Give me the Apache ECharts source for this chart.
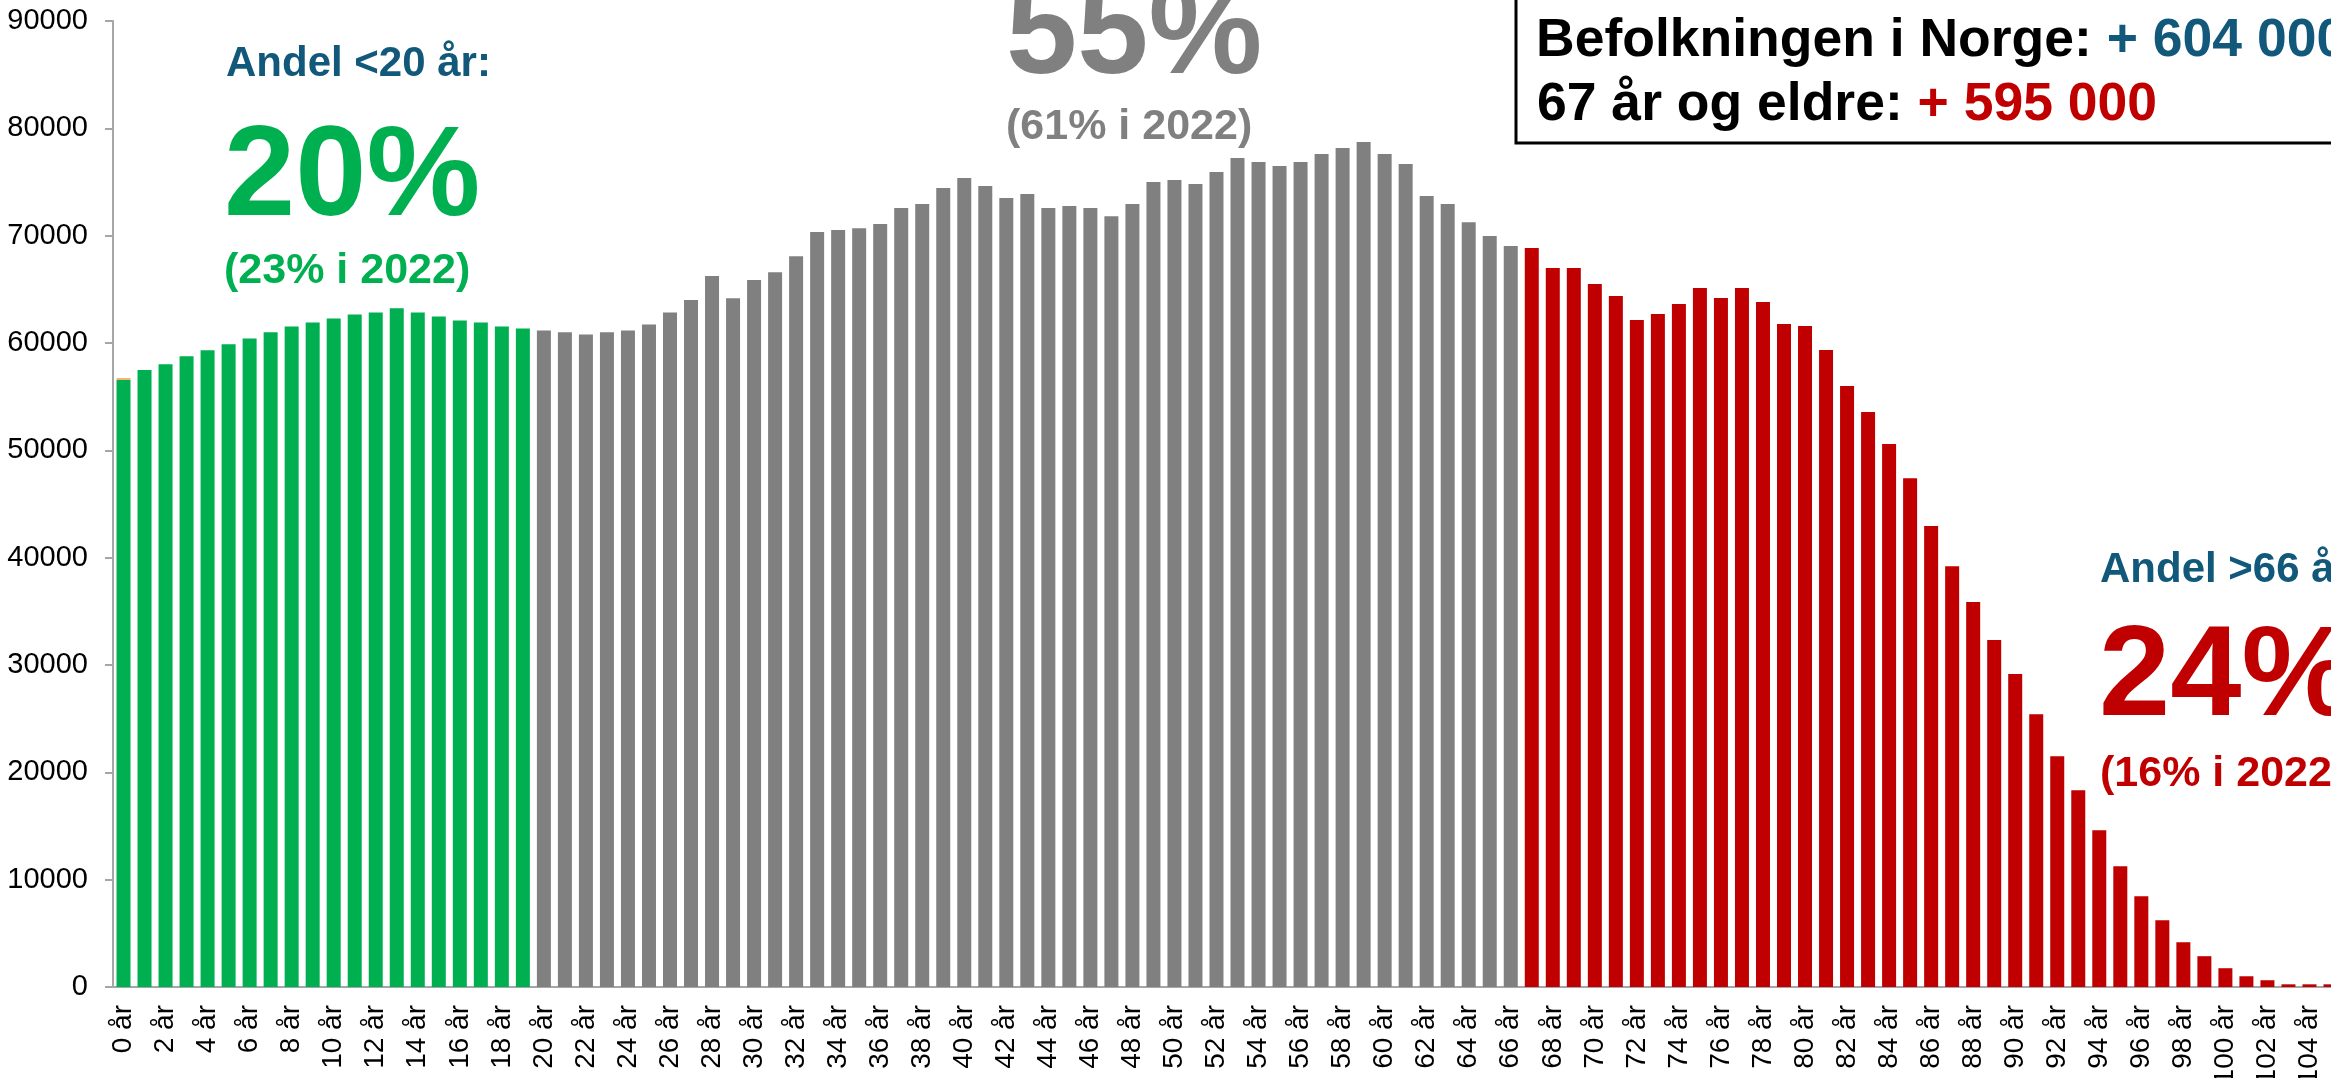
<!DOCTYPE html>
<html>
<head>
<meta charset="utf-8">
<title>Befolkning etter alder</title>
<script src="https://cdn.jsdelivr.net/npm/echarts@6/dist/echarts.min.js"></script>
<style>
    html, body {
        margin: 0;
        padding: 0;
        background: #fff;
        overflow: hidden;
    }
    /* chart is wider than the window, the right part is cut off like in the original */
    #chart {
        width: 2400px;
        height: 1078px;
    }
</style>
</head>
<body>
<div id="chart"></div>
<script>
// alder 0 .. 105 år
const ages = Array.from({length: 106}, (v, i) => i + ' år');

// antall personer per alder
const persons = [
    56550, 57480, 58030, 58770, 59320, 59880, 60430, 60990, 61540, 61910,
    62280, 62650, 62830, 63230, 62830, 62460, 62090, 61910, 61540, 61350,
    61170, 60990, 60800, 60990, 61170, 61720, 62850, 64000, 66240, 64170,
    65860, 66600, 68090, 70330, 70520, 70700, 71080, 72570, 72940, 74430,
    75370, 74620, 73500, 73880, 72570, 72760, 72570, 71820, 72940, 75000,
    75180, 74810, 75930, 77240, 76860, 76490, 76860, 77610, 78170, 78720,
    77610, 76680, 73690, 72940, 71260, 69960, 69030, 68840, 66980, 66980,
    65490, 64370, 62140, 62700, 63630, 65120, 64190, 65120, 63820, 61770,
    61580, 59340, 55990, 53560, 50580, 47410, 42940, 39210, 35860, 32320,
    29150, 25420, 21500, 18330, 14610, 11250, 8460, 6220, 4170, 2870,
    1750, 1000, 630, 250, 250, 250
];

// liten ekstra del oppå 0-åringene
const extra = [190];

const yTicks = [0, 10000, 20000, 30000, 40000, 50000, 60000, 70000, 80000, 90000];

const GREEN = '#00B050';
const GRAY = '#808080';
const RED = '#C00000';
const BLUE = '#11587A';
const FONT = '"Liberation Sans", Arial, sans-serif';

const chart = echarts.init(document.getElementById('chart'));

const option = {
    animation: false,
    textStyle: { fontFamily: FONT },
    grid: {
        left: 113,
        top: 21,
        right: 59,
        bottom: 91,
        containLabel: false,
        outerBoundsMode: 'none'
    },
    xAxis: {
        type: 'category',
        data: ages,
        axisLine: { lineStyle: { color: '#A6A6A6', width: 2 } },
        axisTick: { interval: 0, length: 7, lineStyle: { color: '#A6A6A6', width: 2 } },
        axisLabel: {
            interval: 1,
            rotate: 90,
            margin: 18,
            color: '#000',
            fontSize: 28,
            fontFamily: FONT
        }
    },
    yAxis: {
        type: 'value',
        min: yTicks[0],
        max: yTicks[yTicks.length - 1],
        interval: 10000,
        splitLine: { show: false },
        axisLine: { show: true, lineStyle: { color: '#A6A6A6', width: 2 } },
        axisTick: { show: true, length: 8, lineStyle: { color: '#A6A6A6', width: 2 } },
        axisLabel: {
            margin: 25,
            color: '#000',
            fontSize: 29,
            fontFamily: FONT,
            formatter: (v) => String(v)
        }
    },
    series: [
        {
            name: 'Befolkning',
            type: 'bar',
            stack: 'total',
            barWidth: 14,
            data: persons,
            itemStyle: {
                color: (p) => p.dataIndex < 20 ? GREEN : (p.dataIndex < 67 ? GRAY : RED)
            }
        },
        {
            name: 'Ekstra',
            type: 'bar',
            stack: 'total',
            barWidth: 14,
            data: extra,
            itemStyle: { color: '#F8B27C' }
        }
    ],
    graphic: [
        // venstre tekst
        { type: 'text', style: { x: 226, y: 64, text: 'Andel <20 år:', font: 'bold 42px ' + FONT, fill: BLUE, textVerticalAlign: 'middle' } },
        { type: 'text', style: { x: 224, y: 180, text: '20%', font: 'bold 128px ' + FONT, fill: GREEN, textVerticalAlign: 'middle' } },
        { type: 'text', style: { x: 224, y: 271, text: '(23% i 2022)', font: 'bold 43px ' + FONT, fill: GREEN, textVerticalAlign: 'middle' } },
        // midten
        { type: 'text', style: { x: 1006, y: 38, text: '55%', font: 'bold 128px ' + FONT, fill: GRAY, textVerticalAlign: 'middle' } },
        { type: 'text', style: { x: 1006, y: 127, text: '(61% i 2022)', font: 'bold 43px ' + FONT, fill: GRAY, textVerticalAlign: 'middle' } },
        // høyre
        { type: 'text', style: { x: 2100, y: 570, text: 'Andel >66 år:', font: 'bold 42px ' + FONT, fill: BLUE, textVerticalAlign: 'middle' } },
        { type: 'text', style: { x: 2099, y: 680, text: '24%', font: 'bold 128px ' + FONT, fill: RED, textVerticalAlign: 'middle' } },
        { type: 'text', style: { x: 2100, y: 774, text: '(16% i 2022)', font: 'bold 43px ' + FONT, fill: RED, textVerticalAlign: 'middle' } },
        // boks øverst til høyre
        {
            type: 'rect',
            shape: { x: 1516, y: -10, width: 900, height: 153 },
            style: { fill: '#fff', stroke: '#000', lineWidth: 3 }
        },
        {
            type: 'text',
            style: {
                x: 1536, y: 41,
                text: '{a|Befolkningen i Norge: }{b|+ 604 000}',
                textVerticalAlign: 'middle',
                rich: {
                    a: { font: 'bold 53.5px ' + FONT, fill: '#000' },
                    b: { font: 'bold 53.5px ' + FONT, fill: BLUE }
                }
            }
        },
        {
            type: 'text',
            style: {
                x: 1537, y: 105,
                text: '{a|67 år og eldre: }{b|+ 595 000}',
                textVerticalAlign: 'middle',
                rich: {
                    a: { font: 'bold 53.5px ' + FONT, fill: '#000' },
                    b: { font: 'bold 53.5px ' + FONT, fill: RED }
                }
            }
        }
    ]
};

chart.setOption(option);
</script>
</body>
</html>
